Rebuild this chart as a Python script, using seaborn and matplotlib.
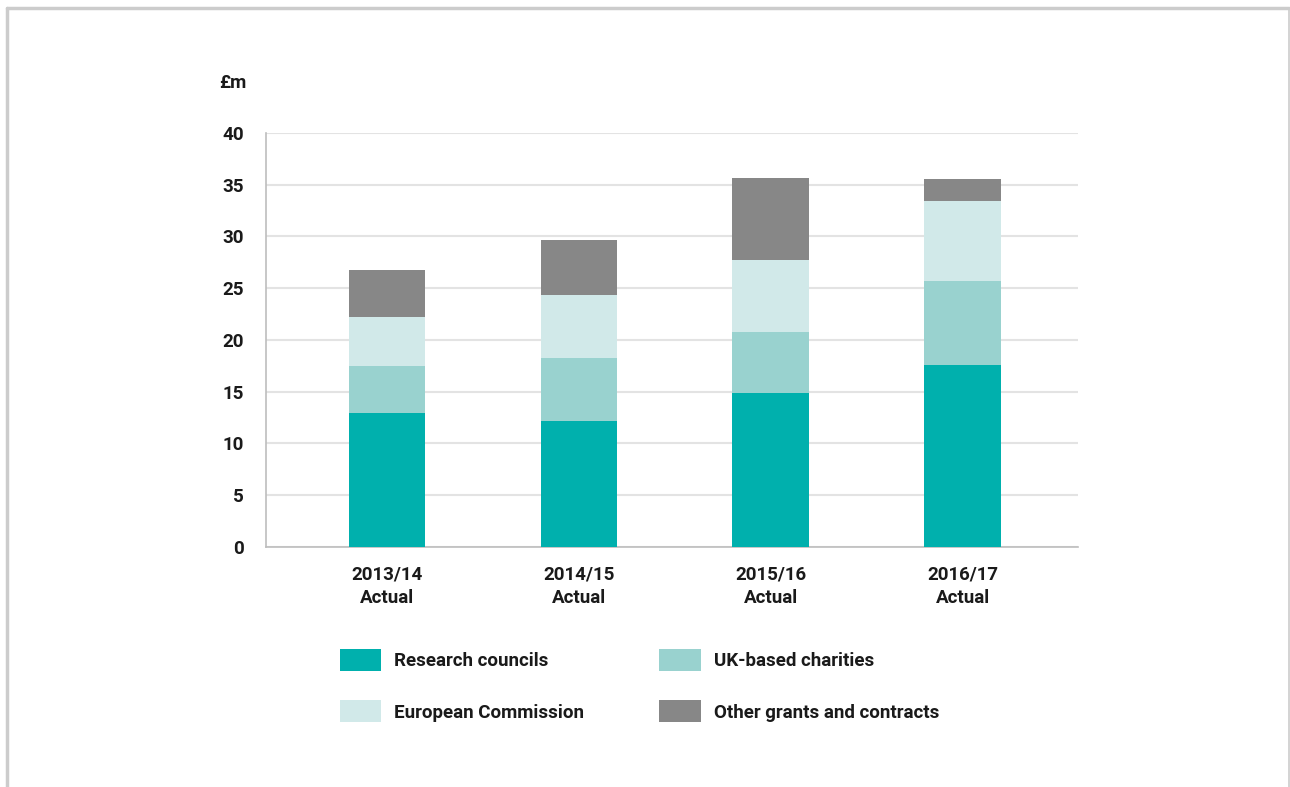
import matplotlib
matplotlib.use("Agg")
import matplotlib.pyplot as plt
import seaborn as sns
import numpy as np
import pandas as pd
from matplotlib.patches import Patch
from matplotlib.lines import Line2D

years = ["2013/14\nActual", "2014/15\nActual", "2015/16\nActual", "2016/17\nActual"]
research_councils = [12.9, 12.2, 14.9, 17.6]
uk_charities = [4.6, 6.1, 5.9, 8.1]
european_commission = [4.7, 6.0, 6.9, 7.7]
other_grants = [4.6, 5.4, 8.0, 2.2]

series_names = ["Research councils", "UK-based charities", "European Commission", "Other grants and contracts"]
series_values = [research_councils, uk_charities, european_commission, other_grants]
colors = ["#00B0AD", "#99D2CF", "#D1E9E9", "#878787"]
y_ticks = [0, 5, 10, 15, 20, 25, 30, 35, 40]

sns.set_theme(style="white")
plt.rcParams['font.family'] = ['Roboto', 'DejaVu Sans']
plt.rcParams['font.weight'] = 'bold'

TXT = "#1a1a1a"
FS = 13.5

fig = plt.figure(figsize=(12.9, 7.87), dpi=100)
ax = fig.add_axes([0.2062, 0.3050, 0.6295, 0.5260])

cum = np.cumsum(np.array(series_values), axis=0)
df = pd.DataFrame({"year": years})
for i in range(len(series_names) - 1, -1, -1):
    df["v"] = cum[i]
    sns.barplot(data=df, x="year", y="v", color=colors[i], width=0.4,
                saturation=1, ax=ax, zorder=3, linewidth=0)

ax.set_xlim(-0.63, 3.6)
ax.set_ylim(0, 40)
ax.set_yticks(y_ticks)
ax.set_yticklabels([str(t) for t in y_ticks], fontsize=FS, color=TXT, fontweight="bold")
ax.set_xticks(range(len(years)))
ax.set_xticklabels(years, fontsize=FS, color=TXT, linespacing=1.45, fontweight="bold")
ax.set_xlabel("")
ax.set_ylabel("")
ax.tick_params(axis="y", length=0, pad=16)
ax.tick_params(axis="x", length=0, pad=13)
ax.yaxis.grid(True, color="#E3E3E3", linewidth=1.5, zorder=0)
ax.set_axisbelow(True)
for s in ["top", "right"]:
    ax.spines[s].set_visible(False)
ax.spines["left"].set_color("#BDBDBD")
ax.spines["bottom"].set_color("#BDBDBD")
ax.spines["left"].set_linewidth(1.2)
ax.spines["bottom"].set_linewidth(1.2)

fig.text(233 / 1290, 1 - 83 / 787, "£m", fontsize=FS, color=TXT,
         ha="center", va="center", fontweight="bold")

# legend filled column-major: order so rows read RC, UK / EC, Other
order = [0, 2, 1, 3]
handles = [Patch(facecolor=colors[i], edgecolor="none") for i in order]
labels = [series_names[i] for i in order]
leg = fig.legend(handles, labels, loc="upper left", ncol=2,
                 bbox_to_anchor=(323 / 1290, 1 - 632 / 787), frameon=False,
                 prop={"size": FS, "weight": "bold"},
                 handlelength=2.2, handleheight=1.45,
                 handletextpad=0.7, columnspacing=4.0, labelspacing=1.55)
for t in leg.get_texts():
    t.set_color(TXT)

# figure border (top, left, right)
lc = "#CCCCCC"
fig.add_artist(Line2D([7 / 1290, 1289 / 1290], [1 - 8 / 787, 1 - 8 / 787], color=lc, linewidth=2.5))
fig.add_artist(Line2D([7 / 1290, 7 / 1290], [0, 1 - 8 / 787], color=lc, linewidth=2.5))
fig.add_artist(Line2D([1289 / 1290, 1289 / 1290], [0, 1 - 8 / 787], color=lc, linewidth=1.2))

fig.savefig("out.png", dpi=100)
